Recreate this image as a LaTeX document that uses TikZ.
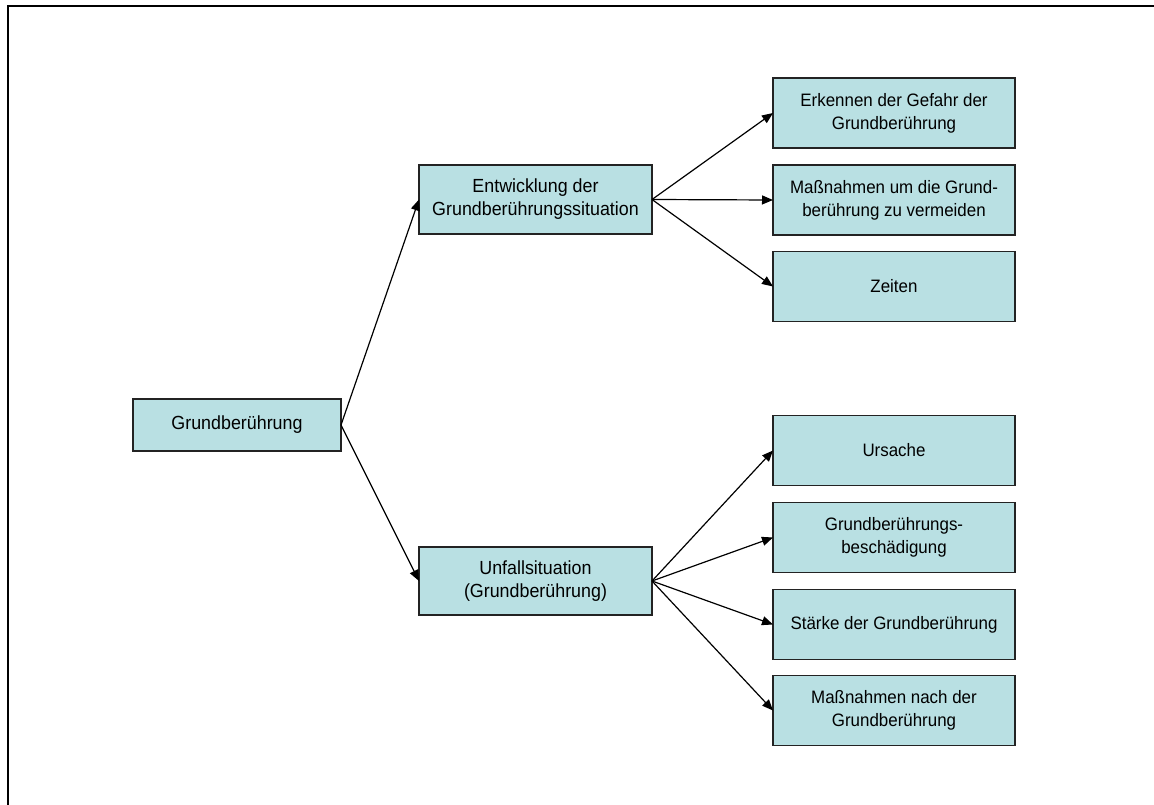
\documentclass[tikz,border=0pt]{standalone}
\usepackage{fontspec}
\setmainfont[FakeStretch=0.94]{Liberation Sans}
\usetikzlibrary{arrows.meta}
\definecolor{boxfill}{RGB}{185,224,227}
\definecolor{boxline}{RGB}{35,35,35}
\begin{document}
\begin{tikzpicture}[x=1pt,y=-1pt,
  topic/.style={draw=boxline,line width=1.4pt,fill=boxfill,inner sep=0pt,outer sep=0pt,
    align=center,font=\fontsize{19}{23}\selectfont},
  leftbox/.style={topic,minimum width=233pt,minimum height=69pt},
  rightbox/.style={topic,minimum width=242pt,minimum height=70pt,font=\fontsize{18}{23}\selectfont},
  link/.style={line width=1.2pt,-{Triangle[length=11pt,width=9pt]}}]
  \useasboundingbox (0,0) rectangle (1154,805);
  % page frame: top and left edges only
  \draw[line width=2pt] (7.5,805) -- (7.5,6.5) -- (1154,6.5);

  % root
  \node[topic,minimum width=208pt,minimum height=52pt] (root) at (237,425) {Grundberührung};

  % second level
  \node[leftbox] (dev) at (535.5,199.5) {Entwicklung der\\Grundberührungssituation};
  \node[leftbox,minimum height=68pt] (acc) at (535.5,581) {Unfallsituation\\(Grundberührung)};

  % third level, upper branch
  \node[rightbox] (d1) at (894,113) {Erkennen der Gefahr der\\Grundberührung};
  \node[rightbox] (d2) at (894,200) {Maßnahmen um die Grund-\\berührung zu vermeiden};
  \node[rightbox] (d3) at (894,286.5) {Zeiten};

  % third level, lower branch
  \node[rightbox] (a1) at (894,450.5) {Ursache};
  \node[rightbox] (a2) at (894,537.5) {Grundberührungs-\\beschädigung};
  \node[rightbox] (a3) at (894,624.5) {Stärke der Grundberührung};
  \node[rightbox] (a4) at (894,710.5) {Maßnahmen nach der\\Grundberührung};

  % connectors
  \draw[link] (root.east) -- (dev.west);
  \draw[link] (root.east) -- (acc.west);
  \foreach \t in {d1,d2,d3} \draw[link] (dev.east) -- (\t.west);
  \foreach \t in {a1,a2,a3,a4} \draw[link] (acc.east) -- (\t.west);
\end{tikzpicture}
\end{document}
